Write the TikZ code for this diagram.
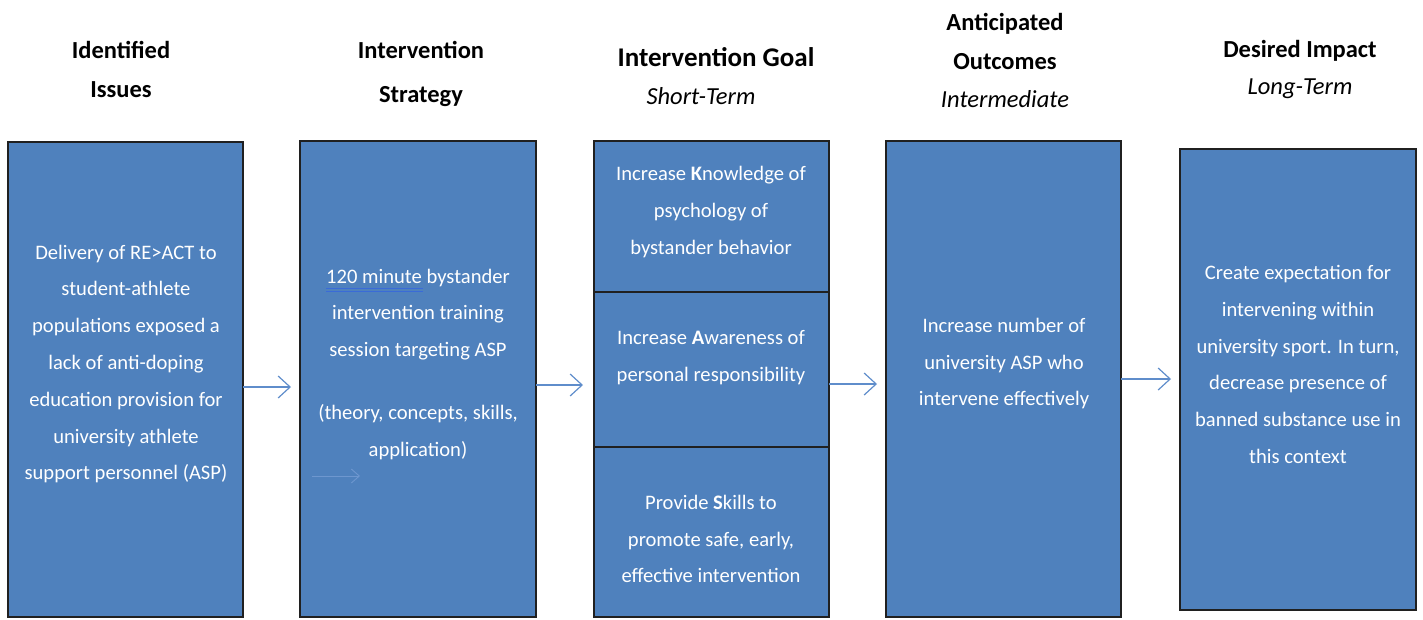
\documentclass[tikz,border=0pt]{standalone}
\usepackage{fontspec}
\setmainfont{Carlito}
\usetikzlibrary{arrows.meta}
\definecolor{boxblue}{HTML}{4F81BD}
\definecolor{arrblue}{HTML}{5F8DCB}
\definecolor{edgegray}{HTML}{202020}
\definecolor{faintblue}{HTML}{6E97CF}
\definecolor{ulblue}{HTML}{3A6BD8}
\begin{document}
\begin{tikzpicture}[x=1pt,y=-1pt,
  box/.style={draw=edgegray, line width=1.1pt, fill=boxblue, inner sep=0pt, outer sep=0pt},
  txt/.style={text=white, align=center, font=\fontsize{20.6}{36.8}\selectfont, inner sep=0pt},
  head/.style={align=center, font=\bfseries\fontsize{24.5}{39}\selectfont, inner sep=0pt},
  sub/.style={font=\itshape\fontsize{24.5}{39}\selectfont, inner sep=0pt},
  arr/.style={draw=arrblue, line width=1.2pt, shorten >=9pt, -{Straight Barb[length=12pt,width=22pt,line width=1.2pt]}}]
\useasboundingbox (0,0) rectangle (1423,619);

% headers
\node[head] (h1) at (121,69.5) {Identified\\Issues};
\node[head, font=\bfseries\fontsize{24.5}{44}\selectfont] (h2) at (421,74) {Intervention\\Strategy};
\node[head, font=\bfseries\fontsize{27}{39}\selectfont] (h3) at (716,57) {Intervention Goal};
\node[sub] (s3) at (701,96) {Short-Term};
\node[head] (h4) at (1005,41.5) {Anticipated\\Outcomes};
\node[sub] (s4) at (1005,99) {Intermediate};
\node[head] (h5) at (1300,51) {Desired Impact};
\node[sub] (s5) at (1300,89) {Long-Term};

% boxes
\node[box, minimum width=235pt, minimum height=475pt] (b1) at (125.5,379.5) {};
\node[box, minimum width=236pt, minimum height=476pt] (b2) at (418,379) {};
\node[box, minimum width=235pt, minimum height=151pt] (b3a) at (711.5,216.5) {};
\node[box, minimum width=235pt, minimum height=155pt] (b3b) at (711.5,369.5) {};
\node[box, minimum width=235pt, minimum height=170pt] (b3c) at (711.5,532) {};
\node[box, minimum width=235pt, minimum height=476pt] (b4) at (1003.5,379) {};
\node[box, minimum width=236pt, minimum height=461pt] (b5) at (1298,379.5) {};

% box texts
\node[txt] (t1) at (126,364) {Delivery of RE>ACT to\\student-athlete\\populations exposed a\\lack of anti-doping\\education provision for\\university athlete\\support personnel (ASP)};
\node[txt] (t2a) at (418,314.5) {120 minute bystander\\intervention training\\session targeting ASP};
\node[txt] (t2b) at (418,432.5) {(theory, concepts, skills,\\application)};
\node[txt] (t3a) at (711,212) {Increase \textbf{K}nowledge of\\psychology of\\bystander behavior};
\node[txt] (t3b) at (711,357.5) {Increase \textbf{A}wareness of\\personal responsibility};
\node[txt] (t3c) at (711,539) {Provide \textbf{S}kills to\\promote safe, early,\\effective intervention};
\node[txt] (t4) at (1004,363.5) {Increase number of\\university ASP who\\intervene effectively};
\node[txt] (t5) at (1298,364.5) {Create expectation for\\intervening within\\university sport. In turn,\\decrease presence of\\banned substance use in\\this context};

% underline under "120 minute"
\draw[ulblue, line width=0.8pt] (326,288.5) -- (423,288.5);
\draw[ulblue, line width=0.8pt] (326,291) -- (423,291);

% faint stray arrow inside box 2
\coordinate (fa1) at (312,476);
\coordinate (fa2) at (360,476);
\draw[faintblue, line width=0.9pt, -{Straight Barb[length=8pt,width=14pt,line width=0.9pt]}] (fa1) -- (fa2);

% connectors
\draw[arr] ([yshift=-7.5pt]b1.east) -- ([yshift=-7.5pt]b1.east -| b2.west);
\draw[arr, shorten >=11pt] ([yshift=-6pt]b2.east) -- ([yshift=-6pt]b2.east -| b3b.west);
\draw[arr] ([yshift=-14.5pt]b3b.east) -- ([yshift=-14.5pt]b3b.east -| b4.west);
\draw[arr] (b4.east) -- (b4.east -| b5.west);
\end{tikzpicture}
\end{document}
